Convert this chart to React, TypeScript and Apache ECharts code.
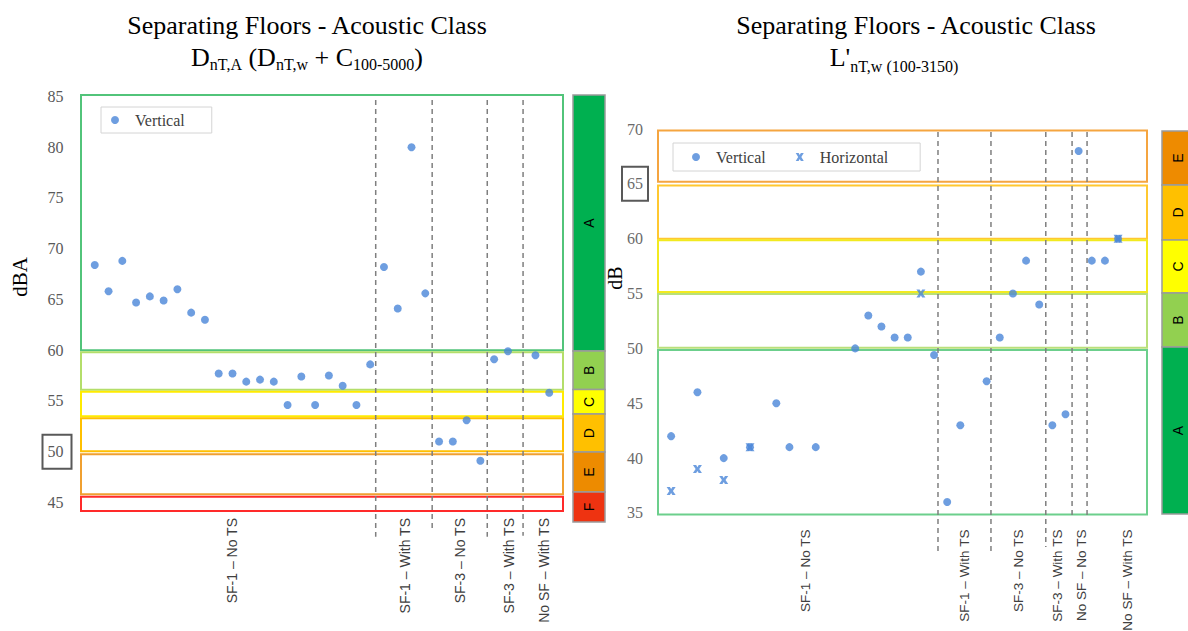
import React, { useEffect, useRef } from "react";
import * as echarts from "echarts";

// ---------------- Left chart (DnT,A) ----------------
const leftX = [1, 2, 3, 4, 5, 6, 7, 8, 9, 10, 11, 12, 13, 14, 15, 16, 17, 18, 19, 20, 21, 22, 23, 24, 25, 26, 27, 28, 29, 30, 31, 33, 34];
const leftVertical = [68.4, 65.8, 68.8, 64.7, 65.3, 64.9, 66.0, 63.7, 63.0, 57.7, 57.7, 56.9, 57.1, 56.9, 54.6, 57.4, 54.6, 57.5, 56.5, 54.6, 58.6, 68.2, 64.1, 80.0, 65.6, 51.0, 51.0, 53.1, 49.1, 59.1, 59.9, 59.5, 55.8];
const leftGroupLabels = ["SF-1 – No TS", "SF-1 – With TS", "SF-3 – No TS", "SF-3 – With TS", "No SF – With TS"];
const leftGroupPos = [11, 23.5, 27.5, 31.1, 33.6];
const leftDividers = [21.4, 25.5, 29.5, 32.1];
const leftDividerTop = 84.65;
const leftDividerEnds = [41.6, 42.3, 41.6, 41.7];
const leftYTicks = [45, 50, 55, 60, 65, 70, 75, 80, 85];
const leftBoxedTick = 50;
const leftClassNames = ["A", "B", "C", "D", "E", "F"];
const leftBands = [[60.0, 85.15], [56.1, 59.8], [53.5, 55.9], [50.05, 53.3], [45.8, 49.75], [44.15, 45.55]];
const leftClassBar = [[59.92, 85.15], [56.12, 59.92], [53.7, 56.12], [49.96, 53.7], [46.02, 49.96], [43.07, 46.02]];

// ---------------- Right chart (L'nT,w) ----------------
const rightVX = [1, 3, 5, 7, 9, 10, 12, 15, 16, 17, 18, 19, 20, 21, 22, 23, 25, 26, 27, 28, 29, 30, 31, 32, 33, 34, 35];
const rightVertical = [42, 46, 40, 41, 45, 41, 41, 50, 53, 52, 51, 51, 57, 49.4, 36, 43, 47, 51, 55, 58, 54, 43, 44, 68, 58, 58, 60];
const rightHX = [1, 3, 5, 7, 20, 35];
const rightHorizontal = [37, 39, 38, 41, 55, 60];
const rightGroupLabels = ["SF-1 – No TS", "SF-1 – With TS", "SF-3 – No TS", "SF-3 – With TS", "No SF – No TS", "No SF – With TS"];
const rightGroupPos = [11.2, 23.35, 27.4, 30.4, 32.2, 35.75];
const rightDividers = [21.3, 25.33, 29.5, 31.5, 32.64];
const rightDividerTop = 69.73;
const rightDividerEnds = [31.35, 31.35, 31.9, 34.6, 34.6];
const rightYTicks = [35, 40, 45, 50, 55, 60, 65, 70];
const rightBoxedTick = 65;
const rightClassNames = ["E", "D", "C", "B", "A"];
const rightBands = [[65.2, 69.86], [60.0, 64.85], [55.15, 59.85], [50.05, 54.95], [34.87, 49.85]];
const rightClassBar = [[64.9, 69.82], [59.88, 64.9], [55.05, 59.88], [50.13, 55.05], [34.9, 50.13]];

// ---------------- Styles ----------------
const leftBandStroke = ["#52c47a", "#b4de6a", "#ffeb00", "#ffc000", "#f0a030", "#ff2a2a"];
const leftBarFill = ["#00b050", "#92d050", "#ffff00", "#ffc000", "#ed8b00", "#ee3311"];
const rightBandStroke = ["#f5a540", "#ffc830", "#f2ea20", "#b9e07a", "#6ccf8c"];
const rightBarFill = ["#ee8b00", "#ffc000", "#ffff00", "#92d050", "#00b050"];

const SERIF = "Liberation Serif, serif";
const SANS = "Liberation Sans, sans-serif";
const POINT = "#4a86d8";
const XMARK = "path://M0,0L3.6,0L5,2.6L6.4,0L10,0L7,5L10,10L6.4,10L5,7.4L3.6,10L0,10L3,5Z";

const LEFT_X_MAX = 35;
const RIGHT_X_MAX = 37.2;

function nearestLabel(pos: number[], labels: string[], v: number) {
  let best = 0;
  for (let i = 1; i < pos.length; i++) if (Math.abs(pos[i] - v) < Math.abs(pos[best] - v)) best = i;
  return Math.abs(pos[best] - v) < 0.3 ? labels[best] : "";
}

function bandRender(xMin: number, xMax: number, colors: string[]) {
  return (params: any, api: any) => {
    const lo = api.value(0);
    const hi = api.value(1);
    const a = api.coord([xMin, hi]);
    const b = api.coord([xMax, lo]);
    return {
      type: "rect",
      shape: { x: a[0], y: a[1], width: b[0] - a[0], height: b[1] - a[1] },
      style: { fill: "none", stroke: colors[params.dataIndex], lineWidth: 2 },
    };
  };
}

function classBarRender(names: string[], fills: string[]) {
  return (params: any, api: any) => {
    const lo = api.value(0);
    const hi = api.value(1);
    const a = api.coord([0, hi]);
    const b = api.coord([1, lo]);
    return {
      type: "group",
      children: [
        {
          type: "rect",
          shape: { x: a[0], y: a[1], width: b[0] - a[0], height: b[1] - a[1] },
          style: { fill: fills[params.dataIndex], stroke: "#9a9a9a", lineWidth: 1.5 },
        },
        {
          type: "text",
          x: (a[0] + b[0]) / 2,
          y: (a[1] + b[1]) / 2,
          rotation: Math.PI / 2,
          style: {
            text: names[params.dataIndex],
            fill: "#000",
            fontFamily: SANS,
            fontSize: 14,
            align: "center",
            verticalAlign: "middle",
          },
        },
      ],
    };
  };
}

function dividerRender(params: any, api: any) {
  const x = api.value(0);
  const a = api.coord([x, api.value(1)]);
  const b = api.coord([x, api.value(2)]);
  return {
    type: "line",
    shape: { x1: a[0], y1: a[1], x2: b[0], y2: b[1] },
    style: { stroke: "#7f7f7f", lineWidth: 1.5, lineDash: [5, 4] },
  };
}

function yAxisLabel(boxed: number, color: string, padR: number, boxPad: number[], margin: number, ticks: number[]) {
  return {
    customValues: ticks,
    margin,
    color,
    fontFamily: SERIF,
    fontSize: 16,
    formatter: (v: number) => (v === boxed ? `{b|${v}}` : `{n|${v}}`),
    rich: {
      n: { padding: [0, padR, 0, 0], fontFamily: SERIF, fontSize: 16, color },
      b: { padding: boxPad, borderColor: "#595959", borderWidth: 2, fontFamily: SERIF, fontSize: 16, color },
    },
  };
}

export default function App() {
  const ref = useRef<HTMLDivElement>(null);

  useEffect(() => {
    if (!ref.current) return;
    const chart = echarts.init(ref.current, undefined, { renderer: "svg" });

    const hidden = { show: false };
    const option: any = {
      animation: false,
      backgroundColor: "#fff",
      grid: [
        { left: 81, top: 95, width: 482, height: 416, outerBoundsMode: "none" },
        { left: 573, top: 95, width: 32, height: 416, outerBoundsMode: "none" },
        { left: 658, top: 129, width: 489, height: 385.6, outerBoundsMode: "none" },
        { left: 1162, top: 129, width: 32, height: 385.6, outerBoundsMode: "none" },
      ],
      xAxis: [
        {
          gridIndex: 0, type: "value", min: 0, max: LEFT_X_MAX,
          axisLine: hidden, axisTick: hidden, splitLine: hidden,
          axisLabel: {
            customValues: leftGroupPos, rotate: 90, margin: 7, fontFamily: SANS, fontSize: 14, color: "#404040",
            formatter: (v: number) => nearestLabel(leftGroupPos, leftGroupLabels, v),
          },
        },
        { gridIndex: 1, type: "value", min: 0, max: 1, show: false },
        {
          gridIndex: 2, type: "value", min: 0, max: RIGHT_X_MAX,
          axisLine: hidden, axisTick: hidden, splitLine: hidden,
          axisLabel: {
            customValues: rightGroupPos, rotate: 90, margin: 15, fontFamily: SANS, fontSize: 13.5, color: "#404040",
            formatter: (v: number) => nearestLabel(rightGroupPos, rightGroupLabels, v),
          },
        },
        { gridIndex: 3, type: "value", min: 0, max: 1, show: false },
      ],
      yAxis: [
        {
          gridIndex: 0, type: "value", min: 44.15, max: 85.15,
          axisLine: hidden, axisTick: hidden, splitLine: hidden,
          axisLabel: yAxisLabel(leftBoxedTick, "#595959", 8, [9, 8, 9, 5], 9.5, leftYTicks),
        },
        { gridIndex: 1, type: "value", min: 44.15, max: 85.15, show: false },
        {
          gridIndex: 2, type: "value", min: 34.85, max: 70,
          axisLine: hidden, axisTick: hidden, splitLine: hidden,
          axisLabel: yAxisLabel(rightBoxedTick, "#6a6a6a", 5, [9, 5, 9, 5], 10, rightYTicks),
        },
        { gridIndex: 3, type: "value", min: 34.85, max: 70, show: false },
      ],
      legend: [
        {
          data: ["Vertical"], left: 101, top: 107, orient: "horizontal",
          borderColor: "#d4d4d4", borderWidth: 1, padding: [5, 27, 5, 10],
          itemWidth: 8, itemHeight: 8, icon: "circle", selectedMode: false,
          textStyle: { fontFamily: SERIF, fontSize: 16, color: "#404040", padding: [0, 0, 0, 11] },
        },
        {
          data: [{ name: "Vertical", icon: "circle" }, { name: "Horizontal", icon: XMARK }],
          left: 673, top: 143, orient: "horizontal",
          borderColor: "#d4d4d4", borderWidth: 1, padding: [6, 32, 6, 19], itemGap: 30,
          itemWidth: 8, itemHeight: 8, selectedMode: false,
          textStyle: { fontFamily: SERIF, fontSize: 16, color: "#404040", padding: [0, 0, 0, 11] },
        },
      ],
      graphic: [
        {
          type: "text", x: 307, y: 12,
          style: { text: "Separating Floors - Acoustic Class", fontFamily: SERIF, fontSize: 26, fill: "#000", align: "center", verticalAlign: "top" },
        },
        {
          type: "text", x: 307, y: 44,
          style: {
            text: "{m|D}{s|nT,A}{m| (D}{s|nT,w}{m| + C}{s|100-5000}{m|)}",
            fill: "#000", align: "center", verticalAlign: "top",
            rich: {
              m: { fontFamily: SERIF, fontSize: 26, fill: "#000", padding: [0, 0, 2, 0], verticalAlign: "bottom" },
              s: { fontFamily: SERIF, fontSize: 16, fill: "#000", verticalAlign: "bottom" },
            },
          },
        },
        {
          type: "text", x: 916, y: 12,
          style: { text: "Separating Floors - Acoustic Class", fontFamily: SERIF, fontSize: 26, fill: "#000", align: "center", verticalAlign: "top" },
        },
        {
          type: "text", x: 894, y: 44,
          style: {
            text: "{m|L'}{s|nT,w (100-3150)}",
            fill: "#000", align: "center", verticalAlign: "top",
            rich: {
              m: { fontFamily: SERIF, fontSize: 26, fill: "#000", padding: [0, 0, 4, 0], verticalAlign: "bottom" },
              s: { fontFamily: SERIF, fontSize: 16, fill: "#000", verticalAlign: "bottom" },
            },
          },
        },
        {
          type: "text", x: 20, y: 277, rotation: Math.PI / 2,
          style: { text: "dBA", fontFamily: SERIF, fontSize: 21, fill: "#000", align: "center", verticalAlign: "middle" },
        },
        {
          type: "text", x: 615, y: 278, rotation: Math.PI / 2,
          style: { text: "dB", fontFamily: SERIF, fontSize: 20, fill: "#000", align: "center", verticalAlign: "middle" },
        },
      ],
      series: [
        {
          type: "custom", name: "leftBands", xAxisIndex: 0, yAxisIndex: 0, silent: true,
          renderItem: bandRender(0, LEFT_X_MAX, leftBandStroke), data: leftBands, z: 1,
        },
        {
          type: "custom", name: "leftDividers", xAxisIndex: 0, yAxisIndex: 0, silent: true,
          renderItem: dividerRender, data: leftDividers.map((x, i) => [x, leftDividerTop, leftDividerEnds[i]]), z: 2,
        },
        {
          type: "scatter", name: "Vertical", xAxisIndex: 0, yAxisIndex: 0, symbol: "circle", symbolSize: 8,
          itemStyle: { color: POINT }, data: leftX.map((x, i) => [x, leftVertical[i]]), z: 3,
        },
        {
          type: "custom", name: "leftClassBar", xAxisIndex: 1, yAxisIndex: 1, silent: true,
          renderItem: classBarRender(leftClassNames, leftBarFill), data: leftClassBar,
        },
        {
          type: "custom", name: "rightBands", xAxisIndex: 2, yAxisIndex: 2, silent: true,
          renderItem: bandRender(0, RIGHT_X_MAX, rightBandStroke), data: rightBands, z: 1,
        },
        {
          type: "custom", name: "rightDividers", xAxisIndex: 2, yAxisIndex: 2, silent: true,
          renderItem: dividerRender, data: rightDividers.map((x, i) => [x, rightDividerTop, rightDividerEnds[i]]), z: 2,
        },
        {
          type: "scatter", name: "Vertical", xAxisIndex: 2, yAxisIndex: 2, symbol: "circle", symbolSize: 8,
          itemStyle: { color: POINT }, data: rightVX.map((x, i) => [x, rightVertical[i]]), z: 3,
        },
        {
          type: "scatter", name: "Horizontal", xAxisIndex: 2, yAxisIndex: 2, symbol: XMARK, symbolSize: [9, 8],
          itemStyle: { color: POINT }, data: rightHX.map((x, i) => [x, rightHorizontal[i]]), z: 4,
        },
        {
          type: "custom", name: "rightClassBar", xAxisIndex: 3, yAxisIndex: 3, silent: true,
          renderItem: classBarRender(rightClassNames, rightBarFill), data: rightClassBar,
        },
      ],
    };

    chart.setOption(option);
    return () => chart.dispose();
  }, []);

  return (
    <div
      ref={ref}
      style={{ position: "fixed", left: 0, top: 0, width: 1188, height: 631, background: "#fff" }}
    />
  );
}
